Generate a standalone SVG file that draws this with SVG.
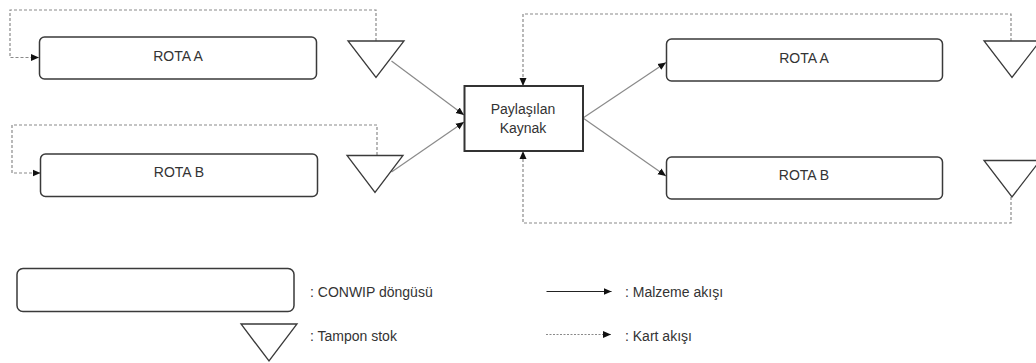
<svg xmlns="http://www.w3.org/2000/svg" width="1036" height="363" viewBox="0 0 1036 363">
<style>
text{font-family:"Liberation Sans",Arial,sans-serif;font-size:14px;fill:#333}
.loop{fill:#fff;stroke:#3a3a3a;stroke-width:1.5}
.buf{fill:#fff;stroke:#3a3a3a;stroke-width:1.3}
.res{fill:#fff;stroke:#333;stroke-width:2}
.mat{fill:none;stroke:#8a8a8a;stroke-width:1.2}
.card{fill:none;stroke:#8a8a8a;stroke-width:1.2;stroke-dasharray:3 2}
</style>
<defs>
<marker id="ah" markerUnits="userSpaceOnUse" markerWidth="9" markerHeight="8" refX="8" refY="4" orient="auto">
<path d="M0,0.5 L8,4 L0,7.5 z" fill="#111"/>
</marker>
</defs>
<g id="connectors">
<polyline class="card" points="376,41 376,10 10,10 10,57.5 39,57.5" marker-end="url(#ah)"/>
<polyline class="card" points="377,155 377,125 12,125 12,173 40.5,173" marker-end="url(#ah)"/>
<line class="mat" x1="391.5" y1="61" x2="464" y2="115" marker-end="url(#ah)"/>
<line class="mat" x1="391.5" y1="172" x2="464" y2="122" marker-end="url(#ah)"/>
<line class="mat" x1="583" y1="118" x2="666" y2="62.5" marker-end="url(#ah)"/>
<line class="mat" x1="583" y1="118" x2="666" y2="176" marker-end="url(#ah)"/>
<polyline class="card" points="1011,41 1011,14 523,14 523,86" marker-end="url(#ah)"/>
<polyline class="card" points="1011,197 1011,223 523,223 523,151" marker-end="url(#ah)"/>
</g>
<g id="left-rota-a"><rect class="loop" x="39.5" y="37" width="277" height="42" rx="5"/><text x="178" y="61" text-anchor="middle">ROTA A</text></g>
<g id="left-rota-b"><rect class="loop" x="40.5" y="154" width="277" height="42.5" rx="5"/><text x="179" y="177" text-anchor="middle">ROTA B</text></g>
<g id="left-buffer-a"><polygon class="buf" points="348,41 404,41 376,77.5"/></g>
<g id="left-buffer-b"><polygon class="buf" points="347,155.5 403,155.5 375,192.5"/></g>
<g id="shared-resource"><rect class="res" x="464.5" y="86" width="118.5" height="65"/><text x="523" y="114" text-anchor="middle">Paylaşılan</text><text x="523" y="133" text-anchor="middle">Kaynak</text></g>
<g id="right-rota-a"><rect class="loop" x="666.5" y="39" width="276" height="42" rx="5"/><text x="804" y="63" text-anchor="middle">ROTA A</text></g>
<g id="right-rota-b"><rect class="loop" x="666.5" y="157" width="276" height="42" rx="5"/><text x="804" y="180" text-anchor="middle">ROTA B</text></g>
<g id="right-buffer-a"><polygon class="buf" points="984,41 1040,41 1012,77.5"/></g>
<g id="right-buffer-b"><polygon class="buf" points="984,160.5 1040,160.5 1012,197"/></g>
<g id="legend">
<rect class="loop" x="17" y="268.5" width="277" height="43" rx="6"/>
<text x="310" y="297">: CONWIP döngüsü</text>
<polygon class="buf" points="241,324 297,324 269,361"/>
<text x="310" y="341">: Tampon stok</text>
<line x1="546.5" y1="291.5" x2="611.5" y2="291.5" stroke="#222" stroke-width="1.2" marker-end="url(#ah)"/>
<text x="625" y="297">: Malzeme akışı</text>
<line x1="546" y1="334.5" x2="611" y2="334.5" stroke="#8a8a8a" stroke-width="1.2" stroke-dasharray="2 1.5" marker-end="url(#ah)"/>
<text x="625" y="341">: Kart akışı</text>
</g>
</svg>
